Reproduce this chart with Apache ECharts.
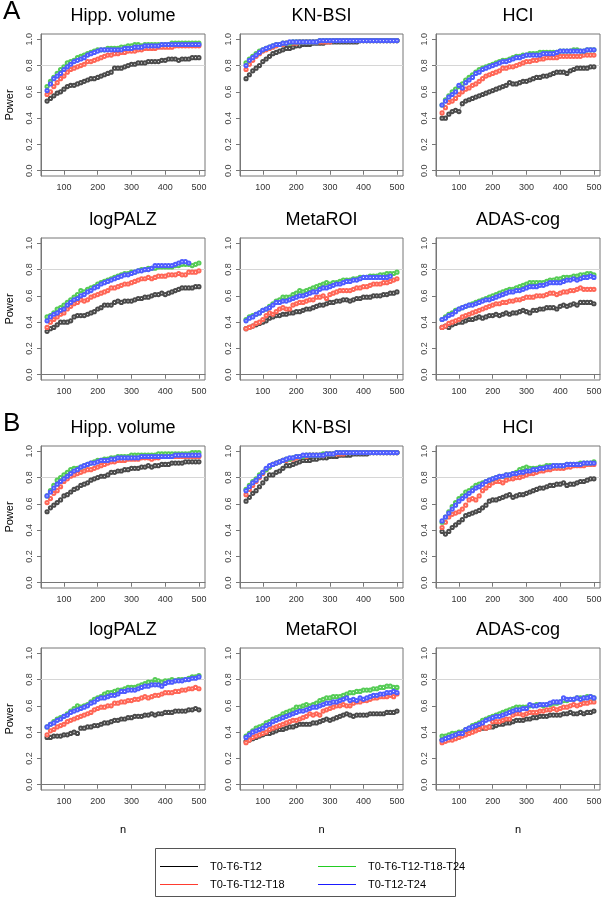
<!DOCTYPE html>
<html><head><meta charset="utf-8">
<script src="https://cdn.jsdelivr.net/npm/echarts@6/dist/echarts.min.js"></script>
<style>html,body{margin:0;padding:0;background:#fff}#c{width:605px;height:900px}</style>
</head><body><div id="c"></div>
<script>
const N = [50,60,70,80,90,100,110,120,130,140,150,160,170,180,190,200,210,220,230,240,250,260,270,280,290,300,310,320,330,340,350,360,370,380,390,400,410,420,430,440,450,460,470,480,490,500];
const SERIES_NAMES = ['T0-T6-T12','T0-T6-T12-T18','T0-T6-T12-T18-T24','T0-T12-T24'];
const PANEL_TITLES = ['Hipp. volume','KN-BSI','HCI','logPALZ','MetaROI','ADAS-cog'];
const X_TICKS = [100,200,300,400,500];
const Y_TICKS = [0,0.2,0.4,0.6,0.8,1.0];
const REF_POWER = 0.8;

// ---- Block A ----
const hippA_s12 = [0.53,0.55,0.57,0.59,0.60, 0.62,0.64,0.65,0.65,0.66, 0.67,0.68,0.69,0.70,0.70, 0.71,0.72,0.73,0.74,0.75, 0.78,0.78,0.78,0.79,0.80, 0.81,0.81,0.82,0.82,0.82, 0.83,0.83,0.83,0.83,0.84, 0.84,0.85,0.85,0.85,0.84, 0.85,0.85,0.85,0.86,0.86, 0.86];
const hippA_s18 = [0.58,0.60,0.64,0.67,0.70, 0.72,0.75,0.77,0.78,0.79, 0.80,0.81,0.83,0.83,0.84, 0.85,0.86,0.87,0.88,0.88, 0.89,0.89,0.90,0.90,0.91, 0.91,0.91,0.92,0.92,0.93, 0.93,0.93,0.93,0.94,0.94, 0.94,0.94,0.94,0.95,0.95, 0.95,0.95,0.95,0.95,0.95, 0.95];
const hippA_s24 = [0.64,0.68,0.71,0.74,0.77, 0.79,0.82,0.83,0.84,0.86, 0.87,0.88,0.89,0.90,0.91, 0.92,0.92,0.92,0.93,0.93, 0.93,0.93,0.94,0.94,0.95, 0.95,0.96,0.96,0.95,0.96, 0.96,0.96,0.96,0.96,0.96, 0.96,0.96,0.97,0.97,0.97, 0.97,0.97,0.97,0.97,0.97, 0.97];
const hippA_s1224 = [0.61,0.66,0.70,0.72,0.74, 0.77,0.79,0.81,0.83,0.84, 0.85,0.86,0.88,0.89,0.90, 0.91,0.92,0.92,0.92,0.92, 0.92,0.92,0.92,0.93,0.93, 0.93,0.94,0.94,0.94,0.95, 0.95,0.95,0.95,0.95,0.96, 0.96,0.96,0.96,0.96,0.96, 0.96,0.96,0.96,0.96,0.96, 0.96];

const bsiA_s12 = [0.70,0.73,0.76,0.78,0.80, 0.83,0.85,0.87,0.89,0.90, 0.91,0.92,0.93,0.93,0.94, 0.95,0.95,0.96,0.96,0.96, 0.97,0.97,0.97,0.97,0.98, 0.98,0.98,0.98,0.98,0.98, 0.98,0.98,0.98,0.98,0.99, 0.99,0.99,0.99,0.99,0.99, 0.99,0.99,0.99,0.99,0.99, 0.99];
const bsiA_s18 = [0.77,0.81,0.84,0.87,0.89, 0.91,0.92,0.93,0.94,0.95, 0.96,0.96,0.97,0.97,0.97, 0.97,0.98,0.98,0.98,0.98, 0.98,0.98,0.98,0.98,0.98, 0.98,0.99,0.99,0.99,0.99, 0.99,0.99,0.99,0.99,0.99, 0.99,0.99,0.99,0.99,0.99, 0.99,0.99,0.99,0.99,0.99, 0.99];
const bsiA_s24 = [0.82,0.85,0.87,0.89,0.91, 0.92,0.93,0.94,0.95,0.96, 0.96,0.97,0.97,0.97,0.98, 0.98,0.98,0.98,0.98,0.98, 0.98,0.98,0.99,0.99,0.99, 0.99,0.99,0.99,0.99,0.99, 0.99,0.99,0.99,0.99,0.99, 0.99,0.99,0.99,0.99,0.99, 0.99,0.99,0.99,0.99,0.99, 0.99];
const bsiA_s1224 = [0.80,0.84,0.86,0.88,0.90, 0.92,0.93,0.94,0.95,0.96, 0.96,0.97,0.97,0.98,0.98, 0.98,0.98,0.98,0.98,0.98, 0.98,0.98,0.99,0.99,0.99, 0.99,0.99,0.99,0.99,0.99, 0.99,0.99,0.99,0.99,0.99, 0.99,0.99,0.99,0.99,0.99, 0.99,0.99,0.99,0.99,0.99, 0.99];

const hciA_s12 = [0.40,0.40,0.43,0.45,0.46, 0.45,0.51,0.53,0.54,0.55, 0.56,0.57,0.58,0.59,0.60, 0.61,0.62,0.63,0.64,0.65, 0.67,0.66,0.66,0.67,0.68, 0.68,0.69,0.70,0.71,0.71, 0.72,0.72,0.73,0.74,0.75, 0.75,0.75,0.74,0.76,0.77, 0.78,0.78,0.78,0.78,0.79, 0.79];
const hciA_s18 = [0.44,0.48,0.52,0.53,0.55, 0.58,0.60,0.62,0.63,0.65, 0.66,0.68,0.70,0.72,0.73, 0.74,0.75,0.76,0.78,0.78, 0.79,0.79,0.80,0.81,0.82, 0.83,0.83,0.84,0.84,0.85, 0.85,0.86,0.86,0.86,0.86, 0.87,0.87,0.87,0.87,0.87, 0.87,0.87,0.88,0.88,0.88, 0.88];
const hciA_s24 = [0.50,0.54,0.57,0.60,0.62, 0.64,0.66,0.69,0.71,0.73, 0.75,0.77,0.78,0.79,0.80, 0.81,0.82,0.83,0.84,0.84, 0.85,0.86,0.87,0.87,0.88, 0.88,0.89,0.89,0.89,0.90, 0.90,0.90,0.90,0.90,0.90, 0.91,0.91,0.91,0.91,0.92, 0.92,0.91,0.91,0.92,0.92, 0.92];
const hciA_s1224 = [0.50,0.53,0.56,0.58,0.60, 0.65,0.63,0.67,0.69,0.71, 0.74,0.75,0.77,0.78,0.79, 0.80,0.81,0.82,0.83,0.83, 0.84,0.85,0.86,0.86,0.87, 0.88,0.88,0.88,0.88,0.88, 0.89,0.89,0.89,0.89,0.90, 0.91,0.91,0.91,0.91,0.91, 0.91,0.91,0.91,0.92,0.92, 0.92];

const palzA_s12 = [0.33,0.35,0.36,0.38,0.40, 0.40,0.40,0.41,0.44,0.45, 0.45,0.45,0.46,0.47,0.48, 0.50,0.51,0.53,0.53,0.53, 0.55,0.56,0.55,0.56,0.56, 0.56,0.57,0.58,0.58,0.59, 0.59,0.60,0.61,0.61,0.62, 0.61,0.62,0.63,0.64,0.65, 0.66,0.66,0.66,0.66,0.67, 0.67];
const palzA_s18 = [0.36,0.40,0.42,0.44,0.46, 0.47,0.50,0.52,0.54,0.55, 0.57,0.56,0.57,0.59,0.60, 0.61,0.62,0.63,0.64,0.66, 0.66,0.67,0.68,0.69,0.69, 0.70,0.71,0.72,0.73,0.73, 0.74,0.73,0.74,0.75,0.75, 0.75,0.76,0.76,0.76,0.77, 0.76,0.76,0.78,0.78,0.78, 0.79];
const palzA_s24 = [0.44,0.45,0.47,0.50,0.51, 0.53,0.55,0.57,0.59,0.61, 0.64,0.63,0.65,0.66,0.67, 0.69,0.70,0.71,0.72,0.73, 0.74,0.75,0.76,0.77,0.77, 0.78,0.78,0.79,0.80,0.80, 0.81,0.81,0.81,0.82,0.82, 0.82,0.82,0.82,0.83,0.83, 0.84,0.84,0.84,0.83,0.84, 0.85];
const palzA_s1224 = [0.41,0.44,0.46,0.47,0.49, 0.50,0.53,0.55,0.57,0.58, 0.60,0.61,0.63,0.64,0.66, 0.67,0.69,0.70,0.71,0.72, 0.73,0.74,0.75,0.76,0.76, 0.77,0.78,0.79,0.79,0.80, 0.80,0.81,0.83,0.83,0.83, 0.83,0.83,0.83,0.84,0.85, 0.86,0.86,0.85,null,null, null];

const metaA_s12 = [0.35,0.36,0.37,0.38,0.39, 0.40,0.41,0.43,0.44,0.45, 0.45,0.46,0.46,0.47,0.47, 0.48,0.48,0.49,0.50,0.50, 0.51,0.52,0.53,0.53,0.54, 0.55,0.55,0.56,0.56,0.57, 0.57,0.56,0.57,0.58,0.58, 0.59,0.59,0.59,0.60,0.60, 0.60,0.61,0.61,0.62,0.62, 0.63];
const metaA_s18 = [0.35,0.36,0.37,0.39,0.40, 0.42,0.45,0.47,0.46,0.48, 0.50,0.51,0.50,0.50,0.53, 0.54,0.55,0.55,0.56,0.57, 0.57,0.59,0.59,0.60,0.58, 0.61,0.62,0.63,0.64,0.64, 0.64,0.64,0.65,0.66,0.66, 0.67,0.67,0.68,0.69,0.69, 0.69,0.70,0.70,0.71,0.72, 0.73];
const metaA_s24 = [0.42,0.44,0.45,0.46,0.47, 0.49,0.50,0.52,0.54,0.56, 0.57,0.59,0.59,0.59,0.61, 0.62,0.64,0.63,0.64,0.65, 0.66,0.67,0.68,0.69,0.70, 0.69,0.70,0.70,0.71,0.72, 0.72,0.72,0.73,0.73,0.74, 0.74,0.74,0.75,0.75,0.75, 0.76,0.76,0.77,0.77,0.77, 0.78];
const metaA_s1224 = [0.41,0.43,0.44,0.46,0.47, 0.49,0.50,0.51,0.53,0.55, 0.55,0.56,0.56,0.57,0.58, 0.59,0.60,0.60,0.61,0.62, 0.63,0.63,0.65,0.66,0.66, 0.67,0.68,0.69,0.69,0.70, 0.71,0.71,0.72,0.72,0.73, 0.74,0.74,0.74,0.74,0.74, 0.74,0.74,0.74,0.75,null, null];

const adasA_s12 = [0.36,0.37,0.36,0.38,0.39, 0.40,0.40,0.41,0.42,0.42, 0.43,0.44,0.43,0.44,0.45, 0.45,0.46,0.45,0.46,0.47, 0.46,0.47,0.47,0.48,0.49, 0.48,0.47,0.49,0.49,0.50, 0.50,0.51,0.51,0.51,0.50, 0.52,0.53,0.52,0.53,0.54, 0.53,0.55,0.55,0.55,0.55, 0.54];
const adasA_s18 = [0.36,0.37,0.39,0.40,0.41, 0.42,0.44,0.45,0.46,0.47, 0.48,0.49,0.50,0.51,0.52, 0.53,0.54,0.54,0.55,0.55, 0.56,0.56,0.57,0.57,0.58, 0.59,0.59,0.59,0.60,0.60, 0.60,0.61,0.62,0.62,0.61, 0.62,0.63,0.63,0.64,0.64, 0.65,0.66,0.65,0.65,0.65, 0.65];
const adasA_s24 = [0.42,0.44,0.46,0.47,0.49, 0.50,0.51,0.52,0.53,0.54, 0.55,0.56,0.57,0.58,0.59, 0.60,0.61,0.62,0.63,0.64, 0.65,0.65,0.66,0.67,0.68, 0.69,0.70,0.70,0.70,0.70, 0.70,0.71,0.72,0.72,0.73, 0.73,0.74,0.74,0.74,0.75, 0.75,0.76,0.76,0.77,0.77, 0.76];
const adasA_s1224 = [0.42,0.43,0.45,0.46,0.48, 0.50,0.51,0.52,0.53,0.53, 0.54,0.55,0.56,0.57,0.57, 0.58,0.59,0.60,0.61,0.62, 0.63,0.63,0.64,0.64,0.65, 0.66,0.67,0.67,0.67,0.68, 0.68,0.69,0.70,0.70,0.70, 0.70,0.71,0.72,0.72,0.73, 0.72,0.73,0.74,0.74,0.75, 0.74];

// ---- Block B ----
const hippB_s12 = [0.54,0.57,0.59,0.61,0.63, 0.66,0.67,0.69,0.71,0.72, 0.74,0.75,0.76,0.78,0.79, 0.80,0.81,0.81,0.82,0.84, 0.84,0.85,0.85,0.86,0.86, 0.87,0.87,0.87,0.88,0.88, 0.89,0.88,0.89,0.89,0.90, 0.90,0.90,0.91,0.91,0.91, 0.91,0.92,0.92,0.92,0.92, 0.92];
const hippB_s18 = [0.61,0.64,0.68,0.70,0.73, 0.77,0.79,0.81,0.82,0.83, 0.84,0.85,0.86,0.86,0.87, 0.88,0.89,0.90,0.91,0.92, 0.92,0.93,0.93,0.93,0.94, 0.94,0.94,0.94,0.95,0.95, 0.95,0.94,0.95,0.95,0.96, 0.96,0.96,0.96,0.96,0.96, 0.96,0.96,0.96,0.96,0.96, 0.96];
const hippB_s24 = [0.66,0.70,0.74,0.78,0.80, 0.82,0.84,0.86,0.87,0.87, 0.88,0.89,0.90,0.91,0.92, 0.93,0.93,0.94,0.94,0.95, 0.95,0.96,0.96,0.96,0.96, 0.97,0.97,0.97,0.97,0.97, 0.97,0.97,0.97,0.98,0.98, 0.98,0.98,0.98,0.98,0.98, 0.98,0.98,0.98,0.99,0.99, 0.99];
const hippB_s1224 = [0.66,0.69,0.72,0.75,0.77, 0.79,0.81,0.83,0.85,0.86, 0.88,0.89,0.90,0.91,0.91, 0.92,0.93,0.93,0.93,0.94, 0.94,0.95,0.95,0.95,0.95, 0.95,0.95,0.95,0.96,0.96, 0.96,0.96,0.96,0.96,0.96, 0.96,0.96,0.96,0.97,0.97, 0.97,0.97,0.97,0.97,0.97, 0.97];

const bsiB_s12 = [0.62,0.65,0.68,0.70,0.73, 0.76,0.79,0.82,0.82,0.84, 0.85,0.87,0.89,0.89,0.90, 0.91,0.92,0.93,0.93,0.93, 0.94,0.94,0.95,0.95,0.95, 0.96,0.96,0.96,0.97,0.97, 0.97,0.97,0.98,0.98,0.98, 0.98,0.98,0.99,0.99,0.99, 0.99,0.99,0.99,0.99,0.99, 0.99];
const bsiB_s18 = [0.67,0.71,0.74,0.77,0.80, 0.83,0.86,0.88,0.90,0.91, 0.92,0.93,0.93,0.94,0.94, 0.95,0.96,0.96,0.96,0.97, 0.97,0.97,0.97,0.97,0.98, 0.98,0.98,0.98,0.98,0.98, 0.99,0.99,0.99,0.99,0.99, 0.99,0.99,0.99,0.99,0.99, 0.99,0.99,0.99,0.99,0.99, 0.99];
const bsiB_s24 = [0.71,0.74,0.77,0.79,0.82, 0.84,0.86,0.88,0.90,0.91, 0.92,0.93,0.94,0.94,0.95, 0.96,0.96,0.96,0.97,0.97, 0.97,0.97,0.97,0.98,0.98, 0.98,0.98,0.99,0.99,0.99, 0.99,0.99,0.99,0.99,0.99, 0.99,0.99,0.99,0.99,0.99, 0.99,0.99,0.99,0.99,0.99, 0.99];
const bsiB_s1224 = [0.70,0.73,0.76,0.78,0.81, 0.84,0.87,0.89,0.90,0.91, 0.92,0.93,0.94,0.95,0.95, 0.96,0.96,0.97,0.97,0.97, 0.97,0.97,0.97,0.97,0.98, 0.98,0.98,0.99,0.99,0.99, 0.99,0.99,0.99,0.99,0.99, 0.99,0.99,0.99,0.99,0.99, 0.99,0.99,0.99,0.99,0.99, 0.99];

const hciB_s12 = [0.39,0.37,0.39,0.42,0.44, 0.46,0.48,0.51,0.52,0.53, 0.54,0.55,0.57,0.59,0.62, 0.63,0.63,0.64,0.65,0.66, 0.67,0.65,0.66,0.67,0.67, 0.68,0.69,0.70,0.71,0.72, 0.72,0.73,0.74,0.74,0.75, 0.75,0.76,0.74,0.75,0.75, 0.76,0.77,0.77,0.78,0.79, 0.79];
const hciB_s18 = [0.42,0.46,0.50,0.52,0.53, 0.54,0.56,0.59,0.63,0.64, 0.63,0.66,0.70,0.72,0.74, 0.76,0.77,0.77,0.76,0.78, 0.79,0.79,0.80,0.80,0.81, 0.82,0.83,0.83,0.84,0.85, 0.85,0.86,0.86,0.87,0.87, 0.87,0.87,0.88,0.88,0.89, 0.89,0.89,0.89,0.90,0.90, 0.90];
const hciB_s24 = [0.46,0.50,0.54,0.58,0.61, 0.64,0.66,0.69,0.70,0.72, 0.74,0.75,0.76,0.77,0.78, 0.79,0.80,0.81,0.81,0.82, 0.82,0.83,0.84,0.86,0.87, 0.88,0.87,0.87,0.87,0.88, 0.88,0.89,0.89,0.89,0.89, 0.89,0.89,0.90,0.90,0.90, 0.90,0.91,0.91,0.91,0.91, 0.92];
const hciB_s1224 = [0.47,0.50,0.53,0.56,0.59, 0.62,0.64,0.66,0.68,0.70, 0.72,0.73,0.75,0.77,0.78, 0.79,0.80,0.81,0.81,0.82, 0.82,0.83,0.83,0.84,0.84, 0.85,0.85,0.86,0.86,0.87, 0.87,0.88,0.88,0.89,0.89, 0.89,0.89,0.90,0.90,0.90, 0.90,0.90,0.91,0.91,0.91, 0.91];

const palzB_s12 = [0.36,0.36,0.37,0.37,0.37, 0.38,0.38,0.39,0.40,0.39, 0.43,0.43,0.44,0.44,0.45, 0.45,0.46,0.47,0.47,0.48, 0.49,0.49,0.50,0.50,0.51, 0.51,0.52,0.52,0.52,0.53, 0.53,0.54,0.53,0.54,0.54, 0.55,0.55,0.55,0.56,0.56, 0.56,0.56,0.57,0.57,0.58, 0.57];
const palzB_s18 = [0.38,0.41,0.42,0.44,0.45, 0.46,0.48,0.49,0.50,0.51, 0.52,0.53,0.54,0.55,0.57, 0.58,0.59,0.59,0.60,0.60, 0.62,0.62,0.63,0.63,0.64, 0.64,0.65,0.65,0.66,0.67, 0.66,0.67,0.68,0.68,0.69, 0.70,0.70,0.70,0.71,0.71, 0.72,0.72,0.73,0.73,0.74, 0.73];
const palzB_s24 = [0.44,0.46,0.48,0.50,0.51, 0.52,0.54,0.56,0.58,0.60, 0.59,0.60,0.61,0.63,0.65, 0.66,0.67,0.69,0.70,0.70, 0.71,0.72,0.72,0.73,0.74, 0.74,0.74,0.75,0.76,0.77, 0.78,0.78,0.80,0.79,0.78, 0.79,0.79,0.80,0.79,0.80, 0.80,0.80,0.81,0.82,0.82, 0.83];
const palzB_s1224 = [0.44,0.46,0.47,0.49,0.50, 0.52,0.53,0.55,0.56,0.57, 0.58,0.59,0.60,0.62,0.63, 0.65,0.66,0.66,0.67,0.68, 0.68,0.69,0.71,0.71,0.72, 0.72,0.72,0.73,0.74,0.75, 0.75,0.76,0.76,0.76,0.75, 0.77,0.78,0.78,0.79,0.79, 0.79,0.80,0.80,0.81,0.81, 0.82];

const metaB_s12 = [0.33,0.34,0.35,0.36,0.37, 0.38,0.39,0.39,0.40,0.41, 0.42,0.42,0.43,0.44,0.44, 0.45,0.46,0.46,0.46,0.46, 0.47,0.47,0.48,0.49,0.50, 0.49,0.50,0.51,0.52,0.53, 0.54,0.53,0.52,0.53,0.53, 0.53,0.53,0.54,0.54,0.54, 0.54,0.54,0.55,0.55,0.55, 0.56];
const metaB_s18 = [0.32,0.34,0.36,0.37,0.38, 0.39,0.40,0.42,0.43,0.44, 0.45,0.46,0.47,0.48,0.49, 0.49,0.50,0.51,0.52,0.54, 0.53,0.54,0.53,0.56,0.57, 0.58,0.59,0.60,0.60,0.61, 0.60,0.60,0.62,0.63,0.63, 0.64,0.64,0.65,0.66,0.66, 0.67,0.67,0.67,0.68,0.67, 0.69];
const metaB_s24 = [0.37,0.39,0.41,0.43,0.44, 0.45,0.47,0.48,0.50,0.51, 0.52,0.54,0.55,0.56,0.57, 0.59,0.59,0.60,0.61,0.60, 0.61,0.62,0.64,0.65,0.66, 0.66,0.67,0.67,0.67,0.68, 0.69,0.70,0.70,0.71,0.71, 0.72,0.72,0.72,0.73,0.73, 0.74,0.74,0.75,0.75,0.74, 0.74];
const metaB_s1224 = [0.36,0.38,0.40,0.41,0.42, 0.43,0.45,0.46,0.48,0.49, 0.50,0.51,0.52,0.53,0.54, 0.55,0.56,0.56,0.57,0.58, 0.59,0.59,0.60,0.61,0.62, 0.62,0.63,0.63,0.64,0.65, 0.66,0.64,0.65,0.64,0.66, 0.65,0.66,0.67,0.68,0.68, 0.69,0.69,0.70,0.70,0.71, 0.70];

const adasB_s12 = [0.34,0.35,0.36,0.37,0.38, 0.39,0.40,0.40,0.41,0.42, 0.42,0.43,0.43,0.43,0.44, 0.44,0.45,0.46,0.46,0.47, 0.47,0.48,0.49,0.49,0.49, 0.50,0.50,0.51,0.51,0.52, 0.52,0.52,0.53,0.53,0.53, 0.53,0.54,0.54,0.55,0.54, 0.54,0.55,0.54,0.55,0.55, 0.56];
const adasB_s18 = [0.32,0.33,0.34,0.34,0.35, 0.36,0.37,0.38,0.39,0.40, 0.41,0.42,0.44,0.43,0.44, 0.48,0.48,0.48,0.49,0.50, 0.50,0.53,0.54,0.54,0.53, 0.54,0.55,0.55,0.55,0.56, 0.56,0.57,0.57,0.58,0.57, 0.58,0.59,0.59,0.60,0.61, 0.60,0.61,0.62,0.62,0.63, 0.63];
const adasB_s24 = [0.37,0.37,0.38,0.39,0.39, 0.40,0.40,0.42,0.43,0.45, 0.46,0.47,0.49,0.50,0.51, 0.52,0.53,0.54,0.55,0.56, 0.57,0.58,0.59,0.59,0.59, 0.59,0.60,0.60,0.61,0.61, 0.60,0.61,0.61,0.62,0.62, 0.63,0.64,0.64,0.65,0.65, 0.66,0.66,0.66,0.67,0.67, 0.66];
const adasB_s1224 = [0.34,0.35,0.36,0.37,0.38, 0.39,0.39,0.42,0.43,0.44, 0.45,0.46,0.47,0.49,0.50, 0.51,0.52,0.52,0.53,0.54, 0.55,0.56,0.57,0.57,0.58, 0.58,0.61,0.60,0.60,0.61, 0.61,0.61,0.62,0.63,0.63, 0.63,0.66,0.65,0.65,0.65, 0.66,0.65,0.66,0.66,0.67, 0.66];

const PANELS = [
  [hippA_s12, hippA_s18, hippA_s24, hippA_s1224],
  [bsiA_s12, bsiA_s18, bsiA_s24, bsiA_s1224],
  [hciA_s12, hciA_s18, hciA_s24, hciA_s1224],
  [palzA_s12, palzA_s18, palzA_s24, palzA_s1224],
  [metaA_s12, metaA_s18, metaA_s24, metaA_s1224],
  [adasA_s12, adasA_s18, adasA_s24, adasA_s1224],
  [hippB_s12, hippB_s18, hippB_s24, hippB_s1224],
  [bsiB_s12, bsiB_s18, bsiB_s24, bsiB_s1224],
  [hciB_s12, hciB_s18, hciB_s24, hciB_s1224],
  [palzB_s12, palzB_s18, palzB_s24, palzB_s1224],
  [metaB_s12, metaB_s18, metaB_s24, metaB_s1224],
  [adasB_s12, adasB_s18, adasB_s24, adasB_s1224]
];

// ---- styling / layout ----
const COLORS = ['#4a4a4a', '#ff6656', '#55cc55', '#4e5cff'];
const LEGEND_COLORS = ['#000000', '#ff3b2f', '#22cc22', '#1a1aff'];
const FONT = '"Liberation Sans", Arial, Helvetica, sans-serif';
const COL_LEFT = [41, 240, 436];
const COL_W = [164, 163, 164];
const ROW_TOP = [34, 238, 446, 648];
const BOX_H = 142;

const grids = [], xAxes = [], yAxes = [], series = [], graphics = [];
PANELS.forEach((panel, i) => {
  const block = i < 6 ? 0 : 1;
  const r = Math.floor((i % 6) / 3);
  const c = i % 3;
  const row = block * 2 + r;
  const left = COL_LEFT[c], top = ROW_TOP[row], w = COL_W[c];
  grids.push({left, top, width: w, height: BOX_H, show: true, borderColor: '#777', borderWidth: 1, backgroundColor: '#fff'});
  xAxes.push({
    type: 'value', gridIndex: i, min: 32, max: 518,
    axisLine: {show: true, lineStyle: {color: '#777', width: 1}},
    axisTick: {show: true, customValues: X_TICKS, length: 4, lineStyle: {color: '#777'}},
    axisLabel: {customValues: X_TICKS, fontSize: 9, color: '#333', margin: 7, fontFamily: FONT},
    splitLine: {show: false}
  });
  yAxes.push({
    type: 'value', gridIndex: i, min: -0.04, max: 1.04,
    axisLine: {show: true, lineStyle: {color: '#777', width: 1}},
    axisTick: {show: true, customValues: Y_TICKS, length: 4, lineStyle: {color: '#777'}},
    axisLabel: {customValues: Y_TICKS, rotate: 90, fontSize: 9, color: '#444', margin: 7, fontFamily: FONT,
      formatter: v => v.toFixed(1)},
    splitLine: {show: false}
  });
  panel.forEach((arr, s) => {
    const ser = {
      type: 'line', name: SERIES_NAMES[s], xAxisIndex: i, yAxisIndex: i,
      data: N.map((n, k) => [n, arr[k]]),
      symbol: 'emptyCircle', symbolSize: 3.2, showAllSymbol: true,
      lineStyle: {width: 0.5, color: COLORS[s]},
      itemStyle: {color: COLORS[s], borderColor: COLORS[s], borderWidth: 0.6},
      emphasis: {disabled: true}, animation: false, z: 3 + s
    };
    if (s === 0) {
      ser.markLine = {silent: true, symbol: 'none', label: {show: false}, animation: false,
        lineStyle: {color: '#d6d6d6', width: 1, type: 'solid'}, data: [{yAxis: REF_POWER}], z: 1};
    }
    series.push(ser);
  });
  graphics.push({type: 'text', x: left + w / 2, y: top - 18,
    style: {text: PANEL_TITLES[i % 6], font: '18px ' + FONT, fill: '#000', textAlign: 'center', textVerticalAlign: 'middle'}});
  if (c === 0) {
    graphics.push({type: 'text', x: 10, y: top + BOX_H / 2, rotation: Math.PI / 2,
      style: {text: 'Power', font: '11px ' + FONT, fill: '#000', textAlign: 'center', textVerticalAlign: 'middle'}});
  }
  if (row === 3) {
    graphics.push({type: 'text', x: left + w / 2, y: 830,
      style: {text: 'n', font: '11px ' + FONT, fill: '#000', textAlign: 'center', textVerticalAlign: 'middle'}});
  }
});
graphics.push({type: 'text', x: 3, y: 12, style: {text: 'A', font: '26px ' + FONT, fill: '#000', textAlign: 'left', textVerticalAlign: 'middle'}});
graphics.push({type: 'text', x: 3, y: 424, style: {text: 'B', font: '26px ' + FONT, fill: '#000', textAlign: 'left', textVerticalAlign: 'middle'}});

// legend (R-style box, two columns)
graphics.push({type: 'rect', shape: {x: 155.5, y: 848.5, width: 300, height: 48}, style: {fill: 'none', stroke: '#555', lineWidth: 1}, z: 0});
const LEG_POS = [[160, 866.5], [160, 884.5], [318, 866.5], [318, 884.5]];
SERIES_NAMES.forEach((name, s) => {
  const [lx, ly] = LEG_POS[s];
  graphics.push({type: 'line', shape: {x1: lx, y1: ly, x2: lx + 38, y2: ly}, style: {stroke: LEGEND_COLORS[s], lineWidth: 1}});
  graphics.push({type: 'text', x: lx + 50, y: ly,
    style: {text: name, font: '11px ' + FONT, fill: '#000', textAlign: 'left', textVerticalAlign: 'middle'}});
});

const chart = echarts.init(document.getElementById('c'), null, {renderer: 'canvas'});
chart.setOption({
  animation: false,
  backgroundColor: '#fff',
  grid: grids, xAxis: xAxes, yAxis: yAxes, series,
  graphic: graphics
});
</script>
</body></html>
